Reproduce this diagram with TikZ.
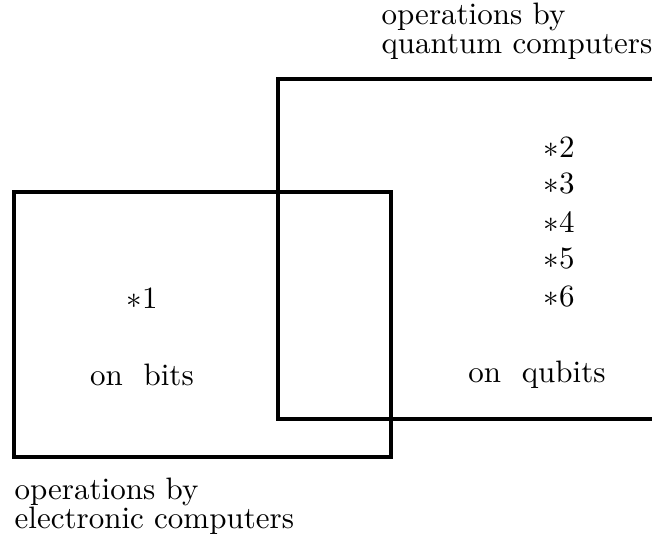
\documentclass[tikz,border=0pt]{standalone}
\begin{document}
\begin{tikzpicture}[x=0.3225pt,y=-0.3225pt,
  boxline/.style={line width=1.12pt, line cap=rect},
  lbl/.style={inner sep=0pt, align=left},
  txt/.style={inner sep=0pt}]
\useasboundingbox (0,0) rectangle (652,533);
% left box (electronic)
\coordinate (L1) at (14,192);
\coordinate (L2) at (391,457);
\draw[boxline] (L1) rectangle (L2);
% right box (quantum), open on the right
\coordinate (Q1) at (660,79);
\coordinate (Q2) at (278,79);
\coordinate (Q3) at (278,419);
\coordinate (Q4) at (660,419);
\draw[boxline, line cap=butt] (Q1) -- (Q2) -- (Q3) -- (Q4);
% labels
\node[lbl, anchor=north west] (qlab) at (381,2) {operations by\\[-2.6pt]quantum computers};
\node[lbl, anchor=north west] (elab) at (14,477) {operations by\\[-2.6pt]electronic computers};
% contents
\node[txt] (s1) at (142,298) {$*$1};
\node[txt] (bits) at (142,375) {on\ \ bits};
\node[txt] (s2) at (559,147) {$*$2};
\node[txt] (s3) at (559,184) {$*$3};
\node[txt] (s4) at (559,222) {$*$4};
\node[txt] (s5) at (559,259) {$*$5};
\node[txt] (s6) at (559,297) {$*$6};
\node[txt] (qubits) at (537,375) {on\ \ qubits};
\end{tikzpicture}
\end{document}
